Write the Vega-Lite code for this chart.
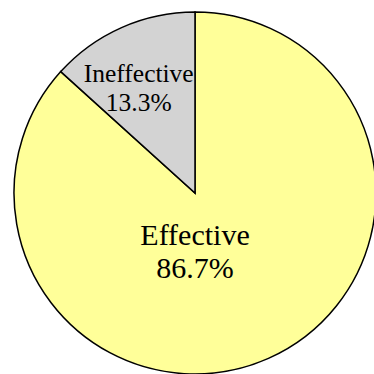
{
  "$schema": "https://vega.github.io/schema/vega-lite/v6.json",
  "width": 358,
  "height": 362,
  "autosize": {"type": "none"},
  "padding": {"left": 16, "top": 12, "right": 0, "bottom": 0},
  "background": "white",
  "data": {
    "values": [
      {"category": "Effective", "percent": 86.7},
      {"category": "Ineffective", "percent": 13.3}
    ]
  },
  "transform": [
    {"calculate": "datum.category + '\\n' + format(datum.percent, '.1f') + '%'", "as": "label"}
  ],
  "encoding": {
    "theta": {"field": "percent", "type": "quantitative", "stack": true},
    "order": {"field": "category", "sort": "ascending"}
  },
  "layer": [
    {
      "mark": {"type": "arc", "outerRadius": 181, "stroke": "black", "strokeWidth": 1.5},
      "encoding": {
        "color": {
          "field": "category",
          "type": "nominal",
          "scale": {"domain": ["Effective", "Ineffective"], "range": ["#ffff99", "#d3d3d3"]},
          "legend": null
        }
      }
    },
    {
      "mark": {"type": "text", "radius": 119, "dx": -8, "dy": -10, "font": "Liberation Serif", "fontSize": 25.5, "lineBreak": "\n", "lineHeight": 28.5, "color": "black", "align": "center", "baseline": "middle"},
      "encoding": {
        "text": {"condition": {"test": "datum.category === 'Ineffective'", "field": "label"}, "value": ""}
      }
    },
    {
      "mark": {"type": "text", "radius": 0, "dy": 43, "font": "Liberation Serif", "fontSize": 30, "lineBreak": "\n", "lineHeight": 33, "color": "black", "align": "center", "baseline": "middle"},
      "encoding": {
        "text": {"condition": {"test": "datum.category === 'Effective'", "field": "label"}, "value": ""}
      }
    }
  ]
}
